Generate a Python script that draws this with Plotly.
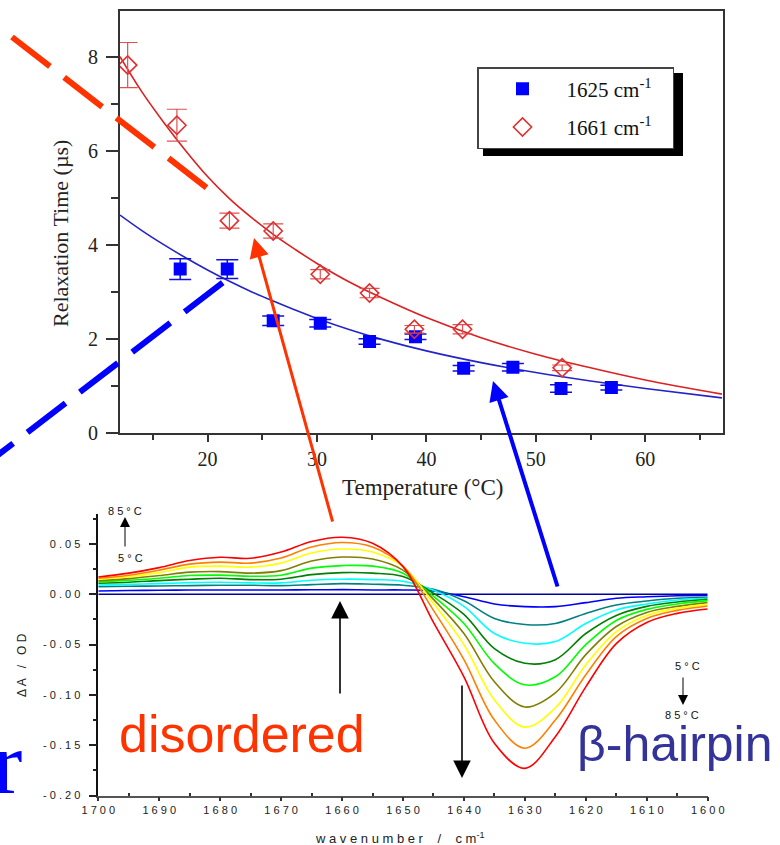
import plotly.graph_objects as go

W, H = 780, 845
def px(x):
    return x / W
def py(y):
    return 1 - y / H

# ---------------- top panel data ----------------
temp_1625 = [17.5, 21.8, 26.0, 30.3, 34.8, 39.0, 43.4, 47.9, 52.3, 56.9]
tau_1625 = [3.48, 3.48, 2.38, 2.33, 1.94, 2.04, 1.37, 1.39, 0.94, 0.96]
err_1625 = [0.22, 0.20, 0.10, 0.08, 0.06, 0.06, 0.06, 0.08, 0.08, 0.05]

temp_1661 = [12.7, 17.2, 22.0, 26.0, 30.3, 34.8, 38.9, 43.3, 52.4]
tau_1661 = [7.82, 6.54, 4.51, 4.29, 3.37, 2.97, 2.20, 2.20, 1.38]
err_1661 = [0.48, 0.34, 0.16, 0.15, 0.10, 0.10, 0.08, 0.10, 0.06]

fit_T = [12, 14, 16, 18, 20, 22, 24, 26, 28, 30, 33, 36, 40, 45, 50, 55, 60, 67]
fit_1661 = [8.0, 7.25, 6.6, 6.0, 5.45, 4.98, 4.58, 4.22, 3.9, 3.6, 3.2, 2.86, 2.45, 2.02, 1.67, 1.38, 1.12, 0.82]
fit_1625 = [4.63, 4.3, 4.0, 3.72, 3.46, 3.22, 3.0, 2.80, 2.61, 2.43, 2.19, 1.98, 1.74, 1.49, 1.28, 1.10, 0.94, 0.74]

# ---------------- bottom panel data ----------------
wavenumber = [1700, 1695, 1690, 1685, 1680, 1675, 1670, 1665, 1660, 1655, 1650,
              1645, 1640, 1635, 1630, 1625, 1620, 1615, 1610, 1605, 1600]
spec_05 = [0.0] * 21
spec_blue = [0.0033, 0.0038, 0.0040, 0.0042, 0.0043, 0.0043, 0.0043, 0.0045, 0.0046, 0.0043, 0.0043,
             0.0033, -0.0024, -0.0096, -0.0123, -0.0123, -0.0083, -0.0040, -0.0024, -0.0014, -0.0012]
spec_teal = [0.0076, 0.0080, 0.0083, 0.0086, 0.0090, 0.0090, 0.0086, 0.0096, 0.0106, 0.0100, 0.0090,
             0.0050, -0.0064, -0.0240, -0.0300, -0.0290, -0.0190, -0.0106, -0.0067, -0.0040, -0.0030]
spec_cyan = [0.0093, 0.0099, 0.0106, 0.0116, 0.0120, 0.0113, 0.0113, 0.0140, 0.0150, 0.0146, 0.0130,
             0.0040, -0.0120, -0.0390, -0.0487, -0.0470, -0.0290, -0.0156, -0.0096, -0.0057, -0.0040]
spec_dkgreen = [0.0110, 0.0120, 0.0136, 0.0150, 0.0160, 0.0146, 0.0150, 0.0195, 0.0215, 0.0210, 0.0176,
                0.0010, -0.0200, -0.0540, -0.0686, -0.0650, -0.0390, -0.0210, -0.0120, -0.0077, -0.0050]
spec_green = [0.0123, 0.0140, 0.0160, 0.0186, 0.0190, 0.0180, 0.0190, 0.0260, 0.0285, 0.0280, 0.0210,
              -0.0020, -0.0290, -0.0690, -0.0900, -0.0820, -0.0500, -0.0260, -0.0150, -0.0096, -0.0063]
spec_olive = [0.0136, 0.0156, 0.0186, 0.0220, 0.0225, 0.0210, 0.0235, 0.0330, 0.0370, 0.0350, 0.0240,
              -0.0050, -0.0390, -0.0870, -0.1120, -0.0980, -0.0600, -0.0320, -0.0180, -0.0120, -0.0083]
spec_yellow = [0.0150, 0.0175, 0.0215, 0.0270, 0.0280, 0.0270, 0.0310, 0.0410, 0.0450, 0.0420, 0.0275,
               -0.0090, -0.0500, -0.1050, -0.1320, -0.1130, -0.0700, -0.0370, -0.0210, -0.0140, -0.0100]
spec_orange = [0.0160, 0.0190, 0.0240, 0.0300, 0.0320, 0.0310, 0.0360, 0.0470, 0.0515, 0.0470, 0.0280,
               -0.0160, -0.0650, -0.1250, -0.1530, -0.1250, -0.0800, -0.0420, -0.0240, -0.0160, -0.0116]
spec_red = [0.0172, 0.0210, 0.0265, 0.0335, 0.0368, 0.0358, 0.0420, 0.0525, 0.0567, 0.0507, 0.0275,
            -0.0280, -0.0820, -0.1480, -0.1730, -0.1415, -0.0920, -0.0490, -0.0280, -0.0190, -0.0146]

spectra = [spec_05, spec_blue, spec_teal, spec_cyan, spec_dkgreen, spec_green,
           spec_olive, spec_yellow, spec_orange, spec_red]
spec_colors = ["#0000A0", "#0000FF", "#008080", "#00FFFF", "#008000", "#00FF00",
               "#808000", "#FFFF00", "#FF8000", "#FF0000"]

x_ticks_top = [20, 30, 40, 50, 60]
y_ticks_top = [0, 2, 4, 6, 8]
x_ticks_bot = [1700, 1690, 1680, 1670, 1660, 1650, 1640, 1630, 1620, 1610, 1600]
y_ticks_bot = [-0.20, -0.15, -0.10, -0.05, 0.00, 0.05]

def spaced(s):
    return " ".join(list(s))

fig = go.Figure()

# fits
fig.add_trace(go.Scatter(x=fit_T, y=fit_1661, mode="lines", line=dict(color="#DD2020", width=1.6, shape="spline"),
                         showlegend=False, xaxis="x", yaxis="y", hoverinfo="skip"))
fig.add_trace(go.Scatter(x=fit_T, y=fit_1625, mode="lines", line=dict(color="#2424C8", width=1.6, shape="spline"),
                         showlegend=False, xaxis="x", yaxis="y", hoverinfo="skip"))
# data points
NB = "\u00a0"
fig.add_trace(go.Scatter(x=temp_1625, y=tau_1625, mode="markers", name="1625 cm<sup>-1</sup>" + NB * 3,
                         legendgroup="a",
                         marker=dict(symbol="square", size=13, color="#0000FF"),
                         error_y=dict(type="data", array=err_1625, color="#1010E0", thickness=1.5, width=11),
                         xaxis="x", yaxis="y"))
fig.add_trace(go.Scatter(x=temp_1661, y=tau_1661, mode="markers", name="1661 cm<sup>-1</sup>" + NB * 3,
                         legendgroup="b",
                         marker=dict(symbol="diamond-open", size=14, color="#E03030", line=dict(width=1.6)),
                         error_y=dict(type="data", array=err_1661, color="#E05050", thickness=1.2, width=10),
                         xaxis="x", yaxis="y"))

# spectra
for s, c in zip(spectra, spec_colors):
    fig.add_trace(go.Scatter(x=wavenumber, y=s, mode="lines", line=dict(color=c, width=1.6, shape="spline"),
                             showlegend=False, xaxis="x2", yaxis="y2", hoverinfo="skip"))

serif = "Liberation Serif"
sans = "Liberation Sans"

fig.update_layout(
    width=W, height=H,
    margin=dict(l=0, r=0, t=0, b=0, autoexpand=False),
    paper_bgcolor="white", plot_bgcolor="rgba(0,0,0,0)",
    showlegend=True,
    xaxis=dict(domain=[px(120), px(723)], anchor="y", range=[12, 67.1],
               tickvals=x_ticks_top, ticks="outside", ticklen=7, tickwidth=1.5, tickcolor="#333",
               minor=dict(tickvals=[15, 25, 35, 45, 55, 65], ticks="outside", ticklen=5, tickwidth=1.5, tickcolor="#333"),
               showline=True, linewidth=2, linecolor="#333", mirror=True,
               showgrid=False, zeroline=False,
               tickfont=dict(family=serif, size=20, color="#222")),
    yaxis=dict(domain=[py(432.7), py(11)], anchor="x", range=[0, 8.97],
               tickvals=y_ticks_top, ticks="outside", ticklen=12, tickwidth=1.5, tickcolor="#333",
               minor=dict(tickvals=[1, 3, 5, 7], ticks="outside", ticklen=7, tickwidth=1.5, tickcolor="#333"),
               showline=True, linewidth=2, linecolor="#333", mirror=True,
               showgrid=False, zeroline=False, ticklabelstandoff=4,
               tickfont=dict(family=serif, size=20, color="#222")),
    xaxis2=dict(domain=[px(98.3), px(707.7)], anchor="y2", range=[1700, 1600],
                tickvals=x_ticks_bot, ticktext=[spaced(str(v)) for v in x_ticks_bot],
                ticks="outside", ticklen=4, tickwidth=1.5, tickcolor="#333",
                minor=dict(tickvals=[1695, 1685, 1675, 1665, 1655, 1645, 1635, 1625, 1615, 1605],
                           ticks="inside", ticklen=3, tickwidth=1.5, tickcolor="#333"),
                showline=True, linewidth=1.5, linecolor="#555", mirror=False,
                showgrid=False, zeroline=False,
                tickfont=dict(family=sans, size=11, color="#222")),
    yaxis2=dict(domain=[py(795.5), py(513.8)], anchor="x2", range=[-0.2, 0.08],
                tickvals=y_ticks_bot, ticktext=[spaced("%.2f" % v) for v in y_ticks_bot],
                ticks="outside", ticklen=8, tickwidth=1.5, tickcolor="#222",
                minor=dict(tickvals=[-0.175, -0.125, -0.075, -0.025, 0.025, 0.075], ticks="outside",
                           ticklen=4, tickwidth=1.5, tickcolor="#222"),
                showline=True, linewidth=1.5, linecolor="#111", mirror=False,
                showgrid=False, zeroline=False, ticklabelstandoff=6,
                tickfont=dict(family=sans, size=11, color="#222")),
    legend=dict(x=px(477), y=py(67), xanchor="left", yanchor="top",
                bgcolor="white", bordercolor="#444", borderwidth=1.5,
                font=dict(family=serif, size=21, color="#111"),
                itemwidth=78, traceorder="grouped", tracegroupgap=8),
)

shapes = [
    # legend shadow
    dict(type="rect", xref="paper", yref="paper", x0=px(483), x1=px(683), y0=py(156), y1=py(73),
         fillcolor="black", line=dict(width=0), layer="above"),
    # red dashed guide
    dict(type="line", xref="paper", yref="paper", x0=px(12), y0=py(37), x1=px(207), y1=py(188),
         line=dict(color="#FF3300", width=6, dash="48px,18px"), layer="above"),
    # blue dashed guide
    dict(type="line", xref="paper", yref="paper", x0=px(222.7), y0=py(282.7), x1=px(-6), y1=py(458),
         line=dict(color="#0000FF", width=6, dash="48px,18px"), layer="above"),
]
fig.update_layout(shapes=shapes)

ann = []
def text(x, y, s, size, color, family, xanchor="center", angle=0):
    ann.append(dict(x=px(x), y=py(y), xref="paper", yref="paper", text=s, showarrow=False,
                    xanchor=xanchor, yanchor="middle", textangle=angle,
                    font=dict(family=family, size=size, color=color)))

def arrow(tx, ty, hx, hy, color, width, size, head=2):
    ann.append(dict(x=px(hx), y=py(hy), xref="paper", yref="paper", text="", showarrow=True,
                    ax=tx - hx, ay=ty - hy, arrowhead=head, arrowwidth=width, arrowsize=size,
                    arrowcolor=color, standoff=0, startstandoff=0))

text(60, 234, "Relaxation Time (µs)", 22, "#222", serif, angle=-90)
text(423, 487, "Temperature (°C)", 23, "#222", serif)
text(22, 665, "Δ A" + NB * 3 + "/" + NB * 3 + "O D", 12, "#222", sans, angle=-90)
text(400, 838, "w a v e n u m b e r" + NB * 4 + "/" + NB * 4 + "c m<sup>-1</sup>", 13, "#222", sans)
text(117, 734, "disordered", 52, "#FF3300", sans, xanchor="left")
text(575, 744, "β-hairpin", 50, "#333399", sans, xanchor="left")
text(24, 763, "r", 88, "#0000FF", serif, xanchor="right")
text(125, 511, "8 5 ° C", 11, "#111", sans)
text(130, 558, "5 ° C", 11, "#111", sans)
text(687, 666, "5 ° C", 11, "#111", sans)
text(682, 715, "8 5 ° C", 11, "#111", sans)

arrow(333, 523, 254, 238, "#FF3300", 3, 1.3)
arrow(558, 588, 493, 381, "#0000FF", 4, 1.0)
arrow(340, 695, 340, 601, "#000000", 1.6, 2.2)
arrow(462, 684, 462, 778, "#000000", 1.6, 2.2)
arrow(125, 548, 125, 517, "#000000", 1.0, 2.0)
arrow(683, 676, 683, 705, "#000000", 1.0, 2.0)

fig.update_layout(annotations=ann)

fig.write_html("out.html", config={"displayModeBar": False},
               post_script="document.body.style.margin='0px';")
